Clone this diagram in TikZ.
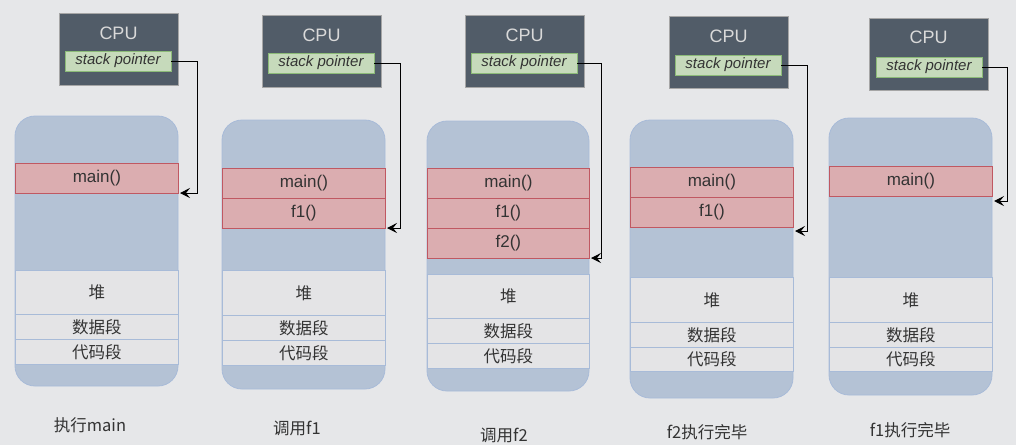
\documentclass[tikz,border=0pt]{standalone}
\usepackage{fontspec}
\setmainfont{Liberation Sans}
\newfontfamily\cjk{Noto Sans CJK SC}
\usetikzlibrary{arrows.meta}
\definecolor{bg}{HTML}{E6E7E9}
\definecolor{memf}{HTML}{B4C2D5}
\definecolor{memd}{HTML}{A8BBD8}
\definecolor{redf}{HTML}{DBADB0}
\definecolor{redd}{HTML}{C05862}
\definecolor{segf}{HTML}{E4E4E6}
\definecolor{cpuf}{HTML}{515C68}
\definecolor{spf}{HTML}{C6DABB}
\definecolor{spd}{HTML}{8CBB78}
\definecolor{txt}{HTML}{333333}
\tikzset{
 x=1pt,y=-1pt,
 font=\fontsize{17}{20}\selectfont,
 mem/.style={draw=memd,fill=memf,rounded corners=20pt,line width=0.8pt},
 row/.style={draw=#1,anchor=north west,inner sep=0pt,minimum width=163pt,text=txt,line width=0.8pt},
 frame/.style={row=redd,fill=redf,minimum height=30pt},
 seg/.style={row=memd,fill=segf,font=\cjk\fontsize{16.5}{18}\selectfont},
 cpu/.style={draw=gray!70,fill=cpuf,anchor=north west,minimum width=119pt,minimum height=72pt,inner sep=0pt},
 cputxt/.style={text=white!85!black,font=\fontsize{18}{20}\selectfont},
 sp/.style={draw=spd,fill=spf,minimum width=106pt,minimum height=20pt,inner sep=0pt,font=\itshape\fontsize{15}{17}\selectfont,text=txt,line width=0.8pt},
 lab/.style={text=txt,font=\cjk\fontsize{16.5}{18}\selectfont},
 ptr/.style={draw=black,line width=1pt,-{Stealth[length=10pt,width=10pt,inset=4pt]}}
}
\begin{document}
\begin{tikzpicture}
\fill[bg] (0,0) rectangle (1016,445);
\useasboundingbox (0,0) rectangle (1016,445);
% column 1
\node[cpu] (cpu1) at (59,13) {};
\node[cputxt] (ct1) at (118.5,33) {CPU};
\node[sp] (sp1) at (118,61) {stack pointer};
\draw[mem] (15,116) rectangle (178,386);
\node[frame] (m1) at (15,163) {main()};
\node[seg,minimum height=44pt] (h1) at (15,270) {堆};
\node[seg,minimum height=25pt] (d1) at (15,314) {数据段};
\node[seg,minimum height=25pt] (c1) at (15,339) {代码段};
\coordinate (t1) at (180,193);
\draw[ptr] (sp1.east) -| (197,193) -- (t1);
\node[lab] (l1) at (90,425) {执行main};
% column 2
\node[cpu] (cpu2) at (262,15) {};
\node[cputxt] (ct2) at (321.5,35) {CPU};
\node[sp] (sp2) at (321,63) {stack pointer};
\draw[mem] (222,120) rectangle (385,389);
\node[frame] (m2) at (222,168) {main()};
\node[frame] (f12) at (222,198) {f1()};
\node[seg,minimum height=45pt] (h2) at (222,270) {堆};
\node[seg,minimum height=25pt] (d2) at (222,315) {数据段};
\node[seg,minimum height=25pt] (c2) at (222,340) {代码段};
\coordinate (t2) at (387,228);
\draw[ptr] (sp2.east) -| (400,228) -- (t2);
\node[lab] (l2) at (297,428) {调用f1};
% column 3
\node[cpu] (cpu3) at (465,15) {};
\node[cputxt] (ct3) at (524.5,35) {CPU};
\node[sp] (sp3) at (524,63) {stack pointer};
\draw[mem] (427,121) rectangle (589,391);
\node[frame,minimum width=162pt] (m3) at (427,168) {main()};
\node[frame,minimum width=162pt] (f13) at (427,198) {f1()};
\node[frame,minimum width=162pt] (f23) at (427,228) {f2()};
\node[seg,minimum width=162pt,minimum height=44pt] (h3) at (427,274) {堆};
\node[seg,minimum width=162pt,minimum height=25pt] (d3) at (427,318) {数据段};
\node[seg,minimum width=162pt,minimum height=25pt] (c3) at (427,343) {代码段};
\coordinate (t3) at (591,258);
\draw[ptr] (sp3.east) -| (601,258) -- (t3);
\node[lab] (l3) at (504,435) {调用f2};
% column 4
\node[cpu] (cpu4) at (669,16) {};
\node[cputxt] (ct4) at (728.5,36) {CPU};
\node[sp] (sp4) at (728,65) {stack pointer};
\draw[mem] (630,120) rectangle (793,398);
\node[frame] (m4) at (630,167) {main()};
\node[frame] (f14) at (630,197) {f1()};
\node[seg,minimum height=45pt] (h4) at (630,277) {堆};
\node[seg,minimum height=25pt] (d4) at (630,322) {数据段};
\node[seg,minimum height=24pt] (c4) at (630,347) {代码段};
\coordinate (t4) at (795,231);
\draw[ptr] (sp4.east) -| (807,231) -- (t4);
\node[lab] (l4) at (707,432) {f2执行完毕};
% column 5
\node[cpu] (cpu5) at (869,18) {};
\node[cputxt] (ct5) at (928.5,37) {CPU};
\node[sp] (sp5) at (929,67) {stack pointer};
\draw[mem] (829,118) rectangle (992,395);
\node[frame] (m5) at (829,166) {main()};
\node[seg,minimum height=45pt] (h5) at (829,277) {堆};
\node[seg,minimum height=25pt] (d5) at (829,322) {数据段};
\node[seg,minimum height=24pt] (c5) at (829,347) {代码段};
\coordinate (t5) at (994,201);
\draw[ptr] (sp5.east) -| (1007,201) -- (t5);
\node[lab] (l5) at (910,430) {f1执行完毕};
\end{tikzpicture}
\end{document}
